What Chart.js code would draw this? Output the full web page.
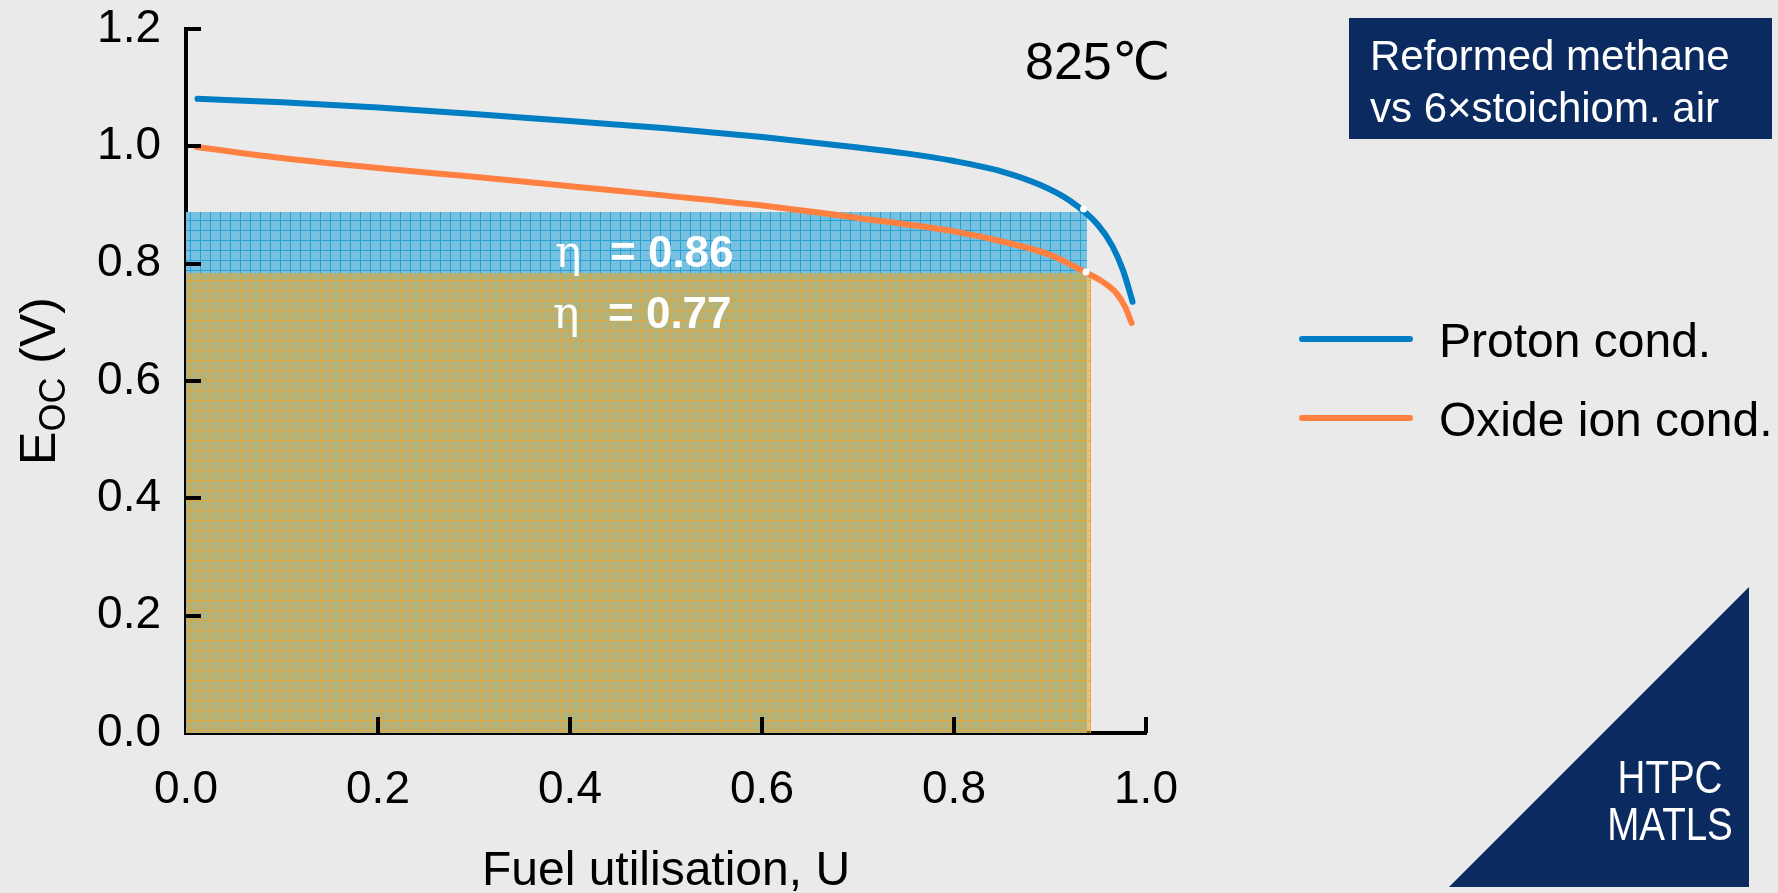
<!DOCTYPE html>
<html>
<head>
<meta charset="utf-8">
<script src="https://cdn.jsdelivr.net/npm/chart.js@4.4.1/dist/chart.umd.min.js"></script>
<style>
  html, body { margin: 0; padding: 0; background: #eaeaea; }
  canvas { display: block; }
</style>
</head>
<body>
<canvas id="grafica" width="1778" height="893"></canvas>
<script>
// Datos: Eoc (V) frente a utilizacion de combustible U
var protonU = [0.012, 0.10, 0.20, 0.30, 0.40, 0.50, 0.60, 0.70, 0.75, 0.80, 0.85, 0.89, 0.92, 0.95, 0.965, 0.976, 0.983, 0.986]
var protonE = [1.081, 1.075, 1.066, 1.055, 1.043, 1.031, 1.016, 0.998, 0.988, 0.975, 0.957, 0.934, 0.908, 0.866, 0.830, 0.789, 0.752, 0.735]
var oxideU = [0.011, 0.10, 0.20, 0.30, 0.40, 0.50, 0.60, 0.70, 0.80, 0.86, 0.90, 0.936, 0.955, 0.969, 0.978, 0.985]
var oxideE = [0.999, 0.980, 0.963, 0.948, 0.932, 0.916, 0.899, 0.878, 0.855, 0.834, 0.815, 0.786, 0.769, 0.750, 0.727, 0.699]

// Areas sombreadas (eficiencia) y puntos de corte
var protonAreaU = [0, 0.9385]
var protonAreaE = [0.888, 0.888]
var oxideAreaU = [0, 0.9427]
var oxideAreaE = [0.784, 0.784]
var corteU = [0.935, 0.9375]
var corteE = [0.893, 0.786]

var seriesLabels = ['Proton cond.', 'Oxide ion cond.']
var etaLabels = ['= 0.86', '= 0.77']
var xTicks = [0.0, 0.2, 0.4, 0.6, 0.8, 1.0]
var yTicks = [0.0, 0.2, 0.4, 0.6, 0.8, 1.0, 1.2]

var azul = '#007dc3'
var naranja = '#ff8040'
var marino = '#0b2a5f'
var fuente = "'Liberation Sans', Arial, 'DejaVu Sans', sans-serif"

var puntos = (us, es) => us.map((u, i) => ({x: u, y: es[i]}))

var ctx = document.getElementById('grafica')
var g = ctx.getContext('2d')

// tramas cuadriculadas de las areas (celda de 10 px)
function trama(fondo, linea) {
  var c = document.createElement('canvas')
  c.width = 10; c.height = 10
  var t = c.getContext('2d')
  t.fillStyle = fondo
  t.fillRect(0, 0, 10, 10)
  t.fillStyle = linea
  t.fillRect(0, 0, 10, 1)
  t.fillRect(0, 0, 1, 10)
  return g.createPattern(c, 'repeat')
}
var tramaAzul = trama('rgb(118,193,223)', 'rgb(40,160,214)')
var tramaNaranja = trama('rgba(225,165,45,0.56)', 'rgba(236,164,48,0.9)')

var decorado = {
  id: 'decorado',
  afterDatasetsDraw(chart) {
    var c = chart.ctx, a = chart.chartArea
    var sx = chart.scales.x, sy = chart.scales.y
    c.save()
    c.strokeStyle = '#000'
    c.lineWidth = 4
    c.beginPath()
    yTicks.forEach(v => {
      if (v === 0) return
      var y = Math.round(sy.getPixelForValue(v))
      c.moveTo(a.left, y); c.lineTo(a.left + 15, y)
    })
    xTicks.forEach(v => {
      if (v === 0) return
      var x = Math.round(sx.getPixelForValue(v))
      c.moveTo(x, a.bottom); c.lineTo(x, a.bottom - 16)
    })
    c.stroke()

    // textos eta
    c.fillStyle = '#fff'
    c.textBaseline = 'alphabetic'
    var filas = [[555, 267], [553, 328]]
    etaLabels.forEach((t, i) => {
      c.font = "44px 'DejaVu Serif', 'Liberation Serif', serif"
      c.fillText('η', filas[i][0], filas[i][1])
      c.font = 'bold 44px ' + fuente
      c.fillText(t, filas[i][0] + 55, filas[i][1])
    })
    c.restore()
  },
  afterDraw(chart) {
    var c = chart.ctx, a = chart.chartArea
    c.save()
    c.fillStyle = '#000'
    c.textBaseline = 'alphabetic'

    // titulo eje x
    c.font = '48px ' + fuente
    c.textAlign = 'center'
    c.fillText('Fuel utilisation, U', (a.left + a.right) / 2, 885)

    // titulo eje y con subindice
    c.save()
    c.translate(55, 381)
    c.rotate(-Math.PI / 2)
    c.textAlign = 'left'
    c.font = '50px ' + fuente
    var wE = c.measureText('E').width
    var wV = c.measureText(' (V)').width
    c.font = '36px ' + fuente
    var wOC = c.measureText('OC').width
    var x0 = -(wE + wOC + wV) / 2
    c.font = '50px ' + fuente
    c.fillText('E', x0, 0)
    c.font = '36px ' + fuente
    c.fillText('OC', x0 + wE, 10)
    c.font = '50px ' + fuente
    c.fillText(' (V)', x0 + wE + wOC, 0)
    c.restore()

    // temperatura
    c.font = '52px ' + fuente
    c.textAlign = 'left'
    c.fillText('825℃', 1025, 79)

    // leyenda
    chart.data.datasets.slice(0, 2).forEach((ds, i) => {
      var y = 339 + i * 79
      c.strokeStyle = ds.borderColor
      c.lineWidth = 6
      c.lineCap = 'round'
      c.beginPath(); c.moveTo(1302, y); c.lineTo(1410, y); c.stroke()
      c.fillStyle = '#000'
      c.font = '48px ' + fuente
      c.fillText(ds.label, 1439, y + 18)
    })

    // recuadro superior derecho
    c.fillStyle = marino
    c.fillRect(1349, 18, 423, 121)
    c.fillStyle = '#fff'
    c.font = '42px ' + fuente
    c.fillText('Reformed methane', 1370, 70)
    c.fillText('vs 6×stoichiom. air', 1370, 122)

    // triangulo
    c.fillStyle = marino
    c.beginPath()
    c.moveTo(1449, 887); c.lineTo(1749, 587); c.lineTo(1749, 887); c.closePath()
    c.fill()
    c.fillStyle = '#fff'
    c.font = '47px ' + fuente
    c.textAlign = 'center'
    ;[['HTPC', 793], ['MATLS', 840]].forEach(p => {
      c.save()
      c.translate(1670, p[1])
      c.scale(0.82, 1)
      c.fillText(p[0], 0, 0)
      c.restore()
    })
    c.restore()
  }
}

var grafica = new Chart(ctx, {
  type: 'line',
  data: {
    datasets: [
      { label: seriesLabels[0], data: puntos(protonU, protonE), borderColor: azul, borderWidth: 6,
        borderCapStyle: 'round', pointRadius: 0, cubicInterpolationMode: 'monotone', fill: false, order: 1 },
      { label: seriesLabels[1], data: puntos(oxideU, oxideE), borderColor: naranja, borderWidth: 6,
        borderCapStyle: 'round', pointRadius: 0, cubicInterpolationMode: 'monotone', fill: false, order: 1 },
      { label: 'area proton', data: puntos(protonAreaU, protonAreaE), borderWidth: 0, borderColor: 'rgba(0,0,0,0)',
        backgroundColor: tramaAzul, pointRadius: 0, fill: 'origin', order: 3 },
      { label: 'area oxide', data: puntos(oxideAreaU, oxideAreaE), borderWidth: 0, borderColor: 'rgba(0,0,0,0)',
        backgroundColor: tramaNaranja, pointRadius: 0, fill: 'origin', order: 2 },
      { label: 'corte', data: puntos(corteU, corteE), showLine: false, pointRadius: 3.5,
        pointBackgroundColor: '#fff', pointBorderWidth: 0, order: 0 }
    ]
  },
  options: {
    responsive: false,
    animation: false,
    devicePixelRatio: 1,
    layout: { padding: { left: 0, top: 29, right: 632, bottom: 0 } },
    plugins: { legend: { display: false }, tooltip: { enabled: false } },
    scales: {
      x: {
        type: 'linear', min: 0, max: 1,
        afterFit: s => { s.height = 160; s.paddingLeft = 0; s.paddingRight = 0 },
        afterBuildTicks: s => { s.ticks = xTicks.map(v => ({value: v})) },
        grid: { display: false, drawTicks: false },
        border: { display: true, color: '#000', width: 4 },
        ticks: { color: '#000', padding: 30, font: { family: fuente, size: 46 }, callback: v => v.toFixed(1) }
      },
      y: {
        min: 0, max: 1.2,
        afterFit: s => { s.width = 186; s.paddingTop = 0; s.paddingBottom = 0 },
        afterBuildTicks: s => { s.ticks = yTicks.map(v => ({value: v})) },
        grid: { display: false, drawTicks: false },
        border: { display: true, color: '#000', width: 4 },
        ticks: { color: '#000', padding: 25, font: { family: fuente, size: 46 }, callback: v => v.toFixed(1) }
      }
    }
  },
  plugins: [decorado]
})
</script>
</body>
</html>
